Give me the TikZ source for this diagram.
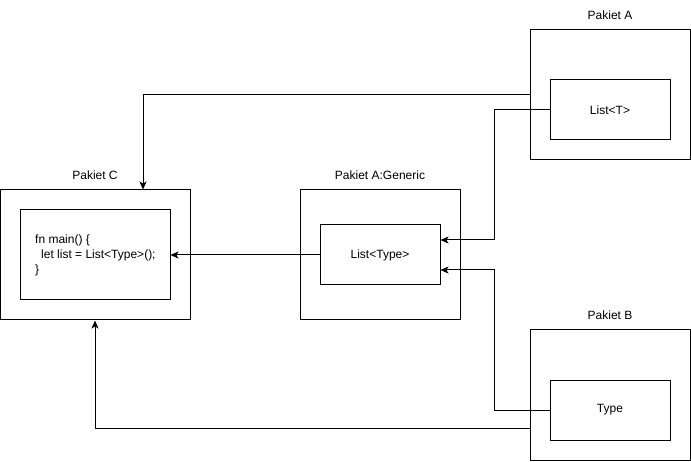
\documentclass[tikz,border=0pt]{standalone}
\usepackage{fontspec}
\setmainfont{Liberation Sans}
\usetikzlibrary{arrows.meta}
\begin{document}
\begin{tikzpicture}[x=1pt,y=-1pt,
  box/.style={draw=black,line width=1pt,minimum width=#1,inner sep=0pt},
  lbl/.style={font=\fontsize{12}{15}\selectfont,inner sep=0pt},
  conn/.style={draw=black,line width=1pt,-{Stealth[length=8pt,width=7pt,inset=2pt]}},
  line/.style={draw=black,line width=1pt}]
\useasboundingbox (0,0) rectangle (691,462);
% Pakiet C
\node[box=190pt,minimum height=130pt] (Cout) at (95,255) {};
\node[box=150pt,minimum height=90pt] (Cin) at (95,255) {};
\node[lbl] (Clbl) at (95,175) {Pakiet C};
\node[lbl,anchor=west,align=left] (Ccode) at (35,255) {fn main() \{\\\hspace*{6pt}let list = List<Type>();\\\}};
% Pakiet A:Generic
\node[box=160pt,minimum height=130pt] (Gout) at (380,255) {};
\node[box=120pt,minimum height=60pt,lbl] (Gin) at (380,255) {List<Type>};
\node[lbl] (Glbl) at (380,175) {Pakiet A:Generic};
% Pakiet A
\node[box=160pt,minimum height=130pt] (Aout) at (610,95) {};
\node[box=120pt,minimum height=60pt,lbl] (Ain) at (610,110) {List<T>};
\node[lbl] (Albl) at (610,15) {Pakiet A};
% Pakiet B
\node[box=160pt,minimum height=130pt] (Bout) at (610,395) {};
\node[box=120pt,minimum height=60pt,lbl] (Bin) at (610,410) {Type};
\node[lbl] (Blbl) at (610,315) {Pakiet B};
% connectors
\path[conn] (Aout.west) -| ([xshift=48pt]Cout.north);
\path[conn] (Ain.west) -- ++(-55,0) |- ([yshift=15pt]Gin.east);
\path[conn] (Bin.west) -- ++(-55,0) |- ([yshift=-15pt]Gin.east);
\path[conn] (Gin.west) -- (Cin.east);
\path[conn] ([yshift=-33pt]Bout.west) -| (Cout.south);
\end{tikzpicture}
\end{document}
